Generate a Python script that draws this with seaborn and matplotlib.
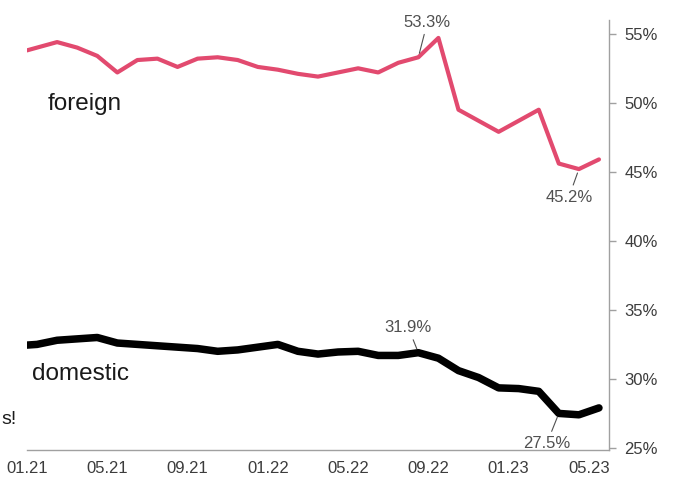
import matplotlib
matplotlib.use("Agg")
import matplotlib.pyplot as plt
import seaborn as sns
import pandas as pd

# month positions (0 = start of Jan 2021); points sit mid-month after the first
month_pos = [0.0] + [m + 0.5 for m in range(29)]

foreign = [53.8, 54.0, 54.4, 54.0, 53.4, 52.2, 53.1, 53.2, 52.6, 53.2,
           53.3, 53.1, 52.6, 52.4, 52.1, 51.9, 52.2, 52.5, 52.2, 52.9,
           53.3, 54.7, 49.5, 48.7, 47.9, 48.7, 49.5, 45.6, 45.2, 45.9]

domestic = [32.45, 32.5, 32.8, 32.9, 33.0, 32.6, 32.5, 32.4, 32.3, 32.2,
            32.0, 32.1, 32.3, 32.5, 32.0, 31.8, 31.95, 32.0, 31.7, 31.7,
            31.9, 31.5, 30.6, 30.1, 29.35, 29.3, 29.1, 27.5, 27.4, 27.9]

tick_pos = [0, 4, 8, 12, 16, 20, 24, 28]
tick_labels = ["01.21", "05.21", "09.21", "01.22", "05.22", "09.22", "01.23", "05.23"]
y_ticks = [25, 30, 35, 40, 45, 50, 55]
y_labels = ["25%", "30%", "35%", "40%", "45%", "50%", "55%"]

df = pd.DataFrame({"month": month_pos, "foreign": foreign, "domestic": domestic})

sns.set_theme(style="white")
plt.rcParams["font.family"] = ["Liberation Sans", "DejaVu Sans"]

fig = plt.figure(figsize=(6.76, 4.79), dpi=100)
ax = fig.add_axes([27 / 676, 1 - 450 / 479, (609 - 27) / 676, (450 - 20) / 479])

sns.lineplot(data=df, x="month", y="foreign", ax=ax, color="#e24a6f", linewidth=3.0)
sns.lineplot(data=df, x="month", y="domestic", ax=ax, color="black", linewidth=5.4)

ax.set_xlim(0, 29)
ax.set_ylim(24.85, 56)
ax.set_xlabel("")
ax.set_ylabel("")

ax.yaxis.tick_right()
ax.set_yticks(y_ticks)
ax.set_yticklabels(y_labels)
ax.set_xticks(tick_pos)
ax.set_xticklabels(tick_labels)
ax.tick_params(axis="both", which="both", direction="out", length=5, width=1,
               color="#a0a0a0", labelsize=12, labelcolor="#3c3c3c", pad=3)
ax.tick_params(axis="y", pad=6)

for side in ["top", "left"]:
    ax.spines[side].set_visible(False)
for side in ["bottom", "right"]:
    ax.spines[side].set_color("#a0a0a0")
    ax.spines[side].set_linewidth(1.0)

ax.text(1.05, 49.9, "foreign", fontsize=17.5, color="#1a1a1a", va="center", ha="left")
ax.text(0.25, 30.35, "domestic", fontsize=17.5, color="#1a1a1a", va="center", ha="left")

ann_kw = dict(textcoords="offset pixels", fontsize=12, color="#505050", ha="center", va="center",
              arrowprops=dict(arrowstyle="-", color="#505050", lw=0.8, shrinkA=1, shrinkB=3))
ax.annotate("53.3%", xy=(month_pos[20], foreign[20]), xytext=(9, 35), **ann_kw)
ax.annotate("45.2%", xy=(month_pos[28], foreign[28]), xytext=(-10, -28), **ann_kw)
ax.annotate("31.9%", xy=(month_pos[20], domestic[20]), xytext=(-10, 25), **ann_kw)
ax.annotate("27.5%", xy=(month_pos[27], domestic[27]), xytext=(-12, -30), **ann_kw)

fig.text(1 / 676, 1 - 420 / 479, "s!", fontsize=14, color="#1a1a1a", ha="left", va="center")

fig.savefig("out.png", dpi=100)
